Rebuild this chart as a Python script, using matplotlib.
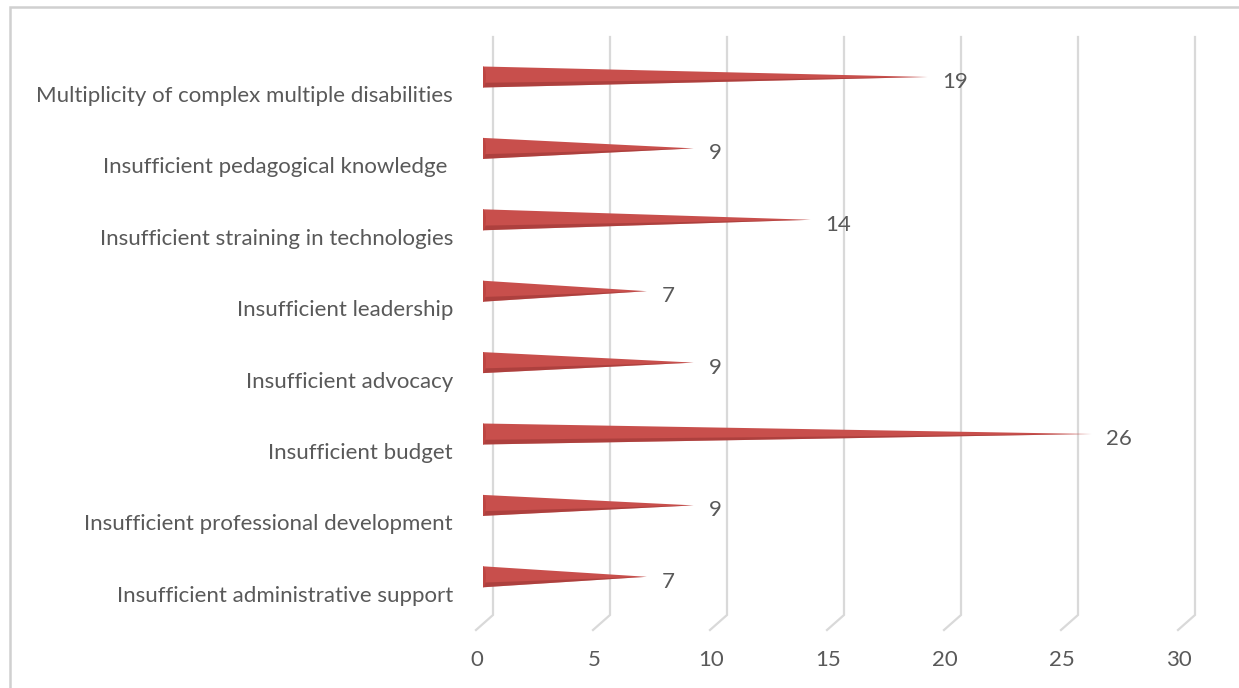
import matplotlib
matplotlib.use("Agg")
import matplotlib.pyplot as plt
import matplotlib.transforms as mtransforms
from matplotlib.patches import Polygon, Ellipse, Rectangle

categories = [
    "Multiplicity of complex multiple disabilities",
    "Insufficient pedagogical knowledge ",
    "Insufficient straining in technologies",
    "Insufficient leadership",
    "Insufficient advocacy",
    "Insufficient budget",
    "Insufficient professional development",
    "Insufficient administrative support",
]
values = [19, 9, 14, 7, 9, 26, 9, 7]
xticks = [0, 5, 10, 15, 20, 25, 30]

W, H = 1239, 688
fig = plt.figure(figsize=(W / 100, H / 100), dpi=100)
plt.rcParams['font.family'] = ['Lato', 'DejaVu Sans']

# plot area (pixels): x 483 -> 1185 for 0..30, y 37 -> 630
x0, x1 = 483, 483 + 23.4 * 30
ytop, ybot = 37, 630
ax = fig.add_axes([x0 / W, 1 - ybot / H, (x1 - x0) / W, (ybot - ytop) / H])
ax.set_xlim(0, 30)
i_top = (ytop - 77) / 71.4
i_bot = (ybot - 77) / 71.4
ax.set_ylim(i_bot, i_top)
ax.axis('off')

txt_color = '#595959'
grid_color = '#D9D9D9'
px_x = 1 / 23.4
px_y = 1 / 71.4
fs = 16

# gridlines with 3D floor foot
blend = mtransforms.blended_transform_factory(ax.transData, ax.transAxes)
foot = (ybot - 615) / (ybot - ytop)
shift_down = mtransforms.ScaledTranslation(0, -30 / 100, fig.dpi_scale_trans)
for t in xticks:
    ax.plot([t + 10 * px_x, t + 10 * px_x, t - 7 * px_x], [1.0, foot, 0.0],
            transform=blend, color=grid_color, lw=1.6, clip_on=False,
            solid_joinstyle='miter', zorder=1)
    ax.text(t - 6 * px_x, 0.0, str(t), transform=blend + shift_down,
            ha='center', va='center', fontsize=fs, color=txt_color)

# cones
half = 10.5 * px_y
light = '#C84F4C'
dark = '#8E2F2D'
for i, v in enumerate(values):
    ax.add_patch(Polygon([(0, i - half), (v, i), (0, i + half)], closed=True,
                         facecolor=light, edgecolor='none', zorder=3))
    ax.add_patch(Polygon([(0, i + half * 0.55), (v, i), (0, i + half)], closed=True,
                         facecolor=dark, edgecolor='none', alpha=0.45, zorder=4))
    ax.add_patch(Ellipse((0, i), width=6 * px_x, height=2 * half,
                         facecolor='#BE4542', edgecolor='none', zorder=5))
    ax.annotate(str(v), xy=(v, i), xytext=(15, -5), textcoords='offset pixels',
                ha='left', va='center', fontsize=fs, color=txt_color, zorder=6)
    ax.annotate(categories[i], xy=(0, i), xytext=(453 - x0, -19), textcoords='offset pixels',
                ha='right', va='center', fontsize=fs, color=txt_color,
                annotation_clip=False)

# outer chart border
fig.patches.append(Rectangle((10 / W, -0.02), 1.05, 1 - 7 / H + 0.02,
                             transform=fig.transFigure, fill=False,
                             edgecolor='#D0D0D0', lw=1.8, clip_on=False))

fig.savefig('out.png', dpi=100)
